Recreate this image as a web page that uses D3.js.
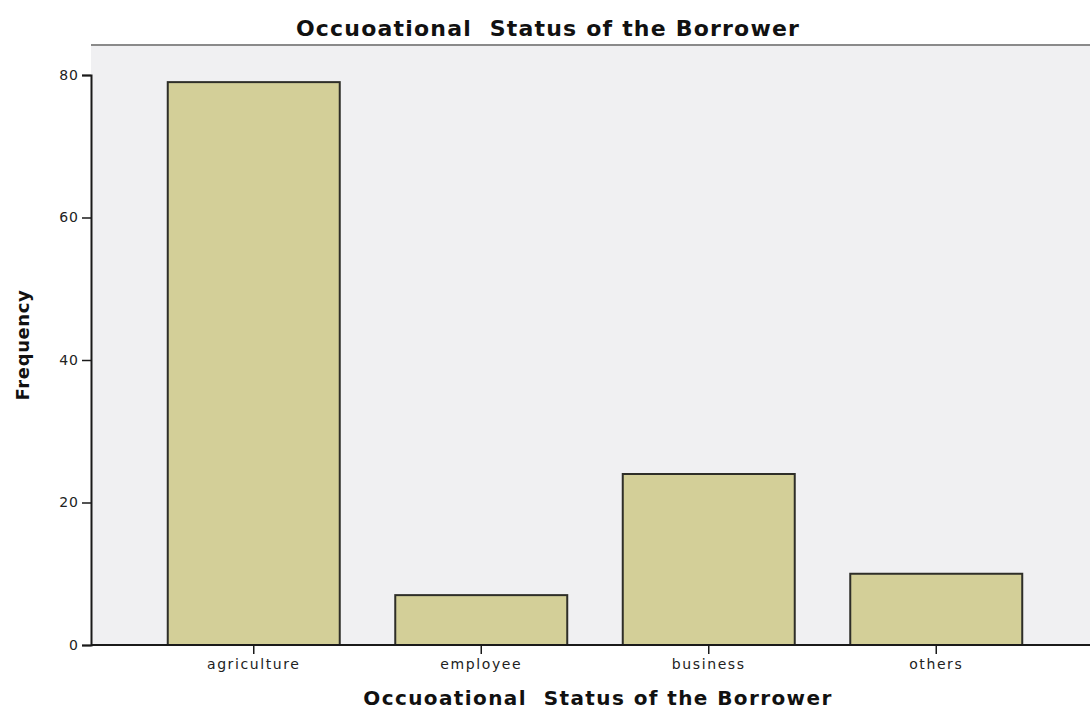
<!DOCTYPE html>
<html>
<head>
<meta charset="utf-8">
<script src="https://cdn.jsdelivr.net/npm/d3@7"></script>
<style>
  html, body { margin: 0; padding: 0; background: #ffffff; }
  svg { display: block; }
</style>
</head>
<body>
<svg id="chart" width="1090" height="711"></svg>
<script>
// Occupational status counts
const categories = ["agriculture", "employee", "business", "others"];
const frequencies = [79, 7, 24, 10];
const yTicks = [0, 20, 40, 60, 80];

const W = 1090, H = 711;
const plot = { left: 91, right: 1090, top: 45, bottom: 645 };

const svg = d3.select("#chart");

const x = d3.scaleBand()
  .domain(categories)
  .range([140, 1050])
  .paddingInner(0.244)
  .paddingOuter(0.122);

const y = d3.scaleLinear()
  .domain([0, 80])
  .range([plot.bottom, 75]);

// plot background
svg.append("rect")
  .attr("x", plot.left).attr("y", plot.top)
  .attr("width", plot.right - plot.left).attr("height", plot.bottom - plot.top)
  .attr("fill", "#f0f0f2");

// frame line at top
svg.append("line")
  .attr("x1", plot.left).attr("x2", plot.right)
  .attr("y1", plot.top).attr("y2", plot.top)
  .attr("stroke", "#8a8a8a").attr("stroke-width", 2);

// bars
svg.append("g").selectAll("rect")
  .data(categories)
  .join("rect")
  .attr("x", d => x(d))
  .attr("width", x.bandwidth())
  .attr("y", (d, i) => y(frequencies[i]))
  .attr("height", (d, i) => y(0) - y(frequencies[i]))
  .attr("fill", "#d3cf98")
  .attr("stroke", "#2e2e28")
  .attr("stroke-width", 2);

// y axis
const yAxis = svg.append("g")
  .attr("transform", `translate(${plot.left},0)`)
  .call(d3.axisLeft(y).tickValues(yTicks).tickSize(9).tickPadding(3));
yAxis.select(".domain").attr("stroke", "#1a1a1a").attr("stroke-width", 2);
yAxis.selectAll(".tick line").attr("stroke", "#1a1a1a").attr("stroke-width", 1.5);
yAxis.selectAll(".tick text")
  .attr("font-family", "DejaVu Sans, sans-serif")
  .attr("font-size", 14)
  .attr("letter-spacing", 1)
  .attr("fill", "#222");

// x axis
const xAxis = svg.append("g")
  .attr("transform", `translate(0,${plot.bottom})`)
  .call(d3.axisBottom(x).tickSize(9).tickPadding(5).tickSizeOuter(0));
xAxis.select(".domain")
  .attr("d", `M${plot.left},0H${plot.right}`)
  .attr("stroke", "#1a1a1a").attr("stroke-width", 2);
xAxis.selectAll(".tick line").attr("stroke", "#1a1a1a").attr("stroke-width", 1.5);
xAxis.selectAll(".tick text")
  .attr("font-family", "DejaVu Sans, sans-serif")
  .attr("font-size", 14)
  .attr("letter-spacing", 1.6)
  .attr("fill", "#222");

// titles
svg.append("text")
  .attr("x", 548).attr("y", 36)
  .attr("text-anchor", "middle")
  .attr("font-family", "DejaVu Sans, sans-serif")
  .attr("font-weight", "bold")
  .attr("font-size", 22)
  .attr("letter-spacing", 1.2)
  .attr("fill", "#111")
  .attr("xml:space", "preserve")
  .text("Occuoational  Status of the Borrower");

svg.append("text")
  .attr("x", 598).attr("y", 705)
  .attr("text-anchor", "middle")
  .attr("font-family", "DejaVu Sans, sans-serif")
  .attr("font-weight", "bold")
  .attr("font-size", 20)
  .attr("letter-spacing", 1.4)
  .attr("fill", "#111")
  .attr("xml:space", "preserve")
  .text("Occuoational  Status of the Borrower");

svg.append("text")
  .attr("transform", "translate(29,345) rotate(-90)")
  .attr("text-anchor", "middle")
  .attr("font-family", "DejaVu Sans, sans-serif")
  .attr("font-weight", "bold")
  .attr("font-size", 18)
  .attr("letter-spacing", 0.6)
  .attr("fill", "#111")
  .text("Frequency");
</script>
</body>
</html>
